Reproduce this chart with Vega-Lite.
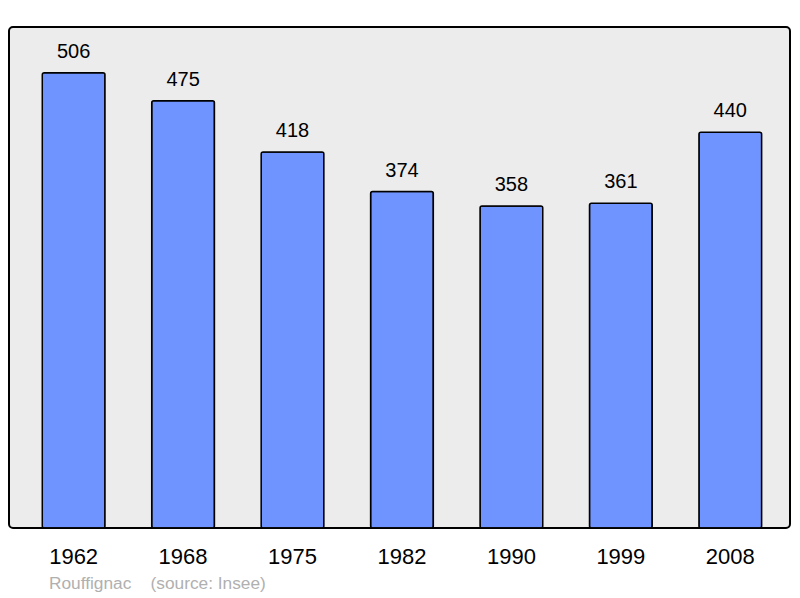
{
  "$schema": "https://vega.github.io/schema/vega-lite/v6.json",
  "width": 781,
  "height": 501,
  "autosize": {"type": "none"},
  "padding": {"left": 9, "top": 27, "right": 10, "bottom": 70},
  "background": "white",
  "config": {
    "view": {"fill": "#ececec", "stroke": "black", "strokeWidth": 2, "cornerRadius": 4},
    "font": "Liberation Sans"
  },
  "data": {
    "values": [
      {"year": "1962", "pop": 506},
      {"year": "1968", "pop": 475},
      {"year": "1975", "pop": 418},
      {"year": "1982", "pop": 374},
      {"year": "1990", "pop": 358},
      {"year": "1999", "pop": 361},
      {"year": "2008", "pop": 440}
    ]
  },
  "title": {
    "text": "Rouffignac\u00a0\u00a0\u00a0\u00a0(source: Insee)",
    "orient": "bottom",
    "anchor": "start",
    "frame": "group",
    "dx": 40,
    "offset": 22,
    "fontSize": 17.3,
    "fontWeight": "normal",
    "color": "#b0b0b0",
    "font": "Liberation Sans",
    "baseline": "alphabetic"
  },
  "encoding": {
    "x": {
      "field": "year",
      "type": "ordinal",
      "scale": {"paddingInner": 0.427, "paddingOuter": 0.2815, "align": 0.54},
      "axis": {
        "title": null,
        "ticks": false,
        "domain": false,
        "labelAngle": 0,
        "labelFontSize": 22,
        "labelFont": "Liberation Sans",
        "labelColor": "black",
        "labelBaseline": "alphabetic",
        "labelPadding": 35
      }
    },
    "y": {
      "field": "pop",
      "type": "quantitative",
      "scale": {"domain": [0, 557]},
      "axis": null
    }
  },
  "layer": [
    {
      "mark": {"type": "bar", "fill": "#7094ff", "stroke": "black", "strokeWidth": 1.5, "cornerRadius": 2}
    },
    {
      "mark": {"type": "text", "dy": -15, "baseline": "alphabetic", "fontSize": 20, "font": "Liberation Sans", "color": "black"},
      "encoding": {"text": {"field": "pop", "type": "quantitative"}}
    }
  ]
}
